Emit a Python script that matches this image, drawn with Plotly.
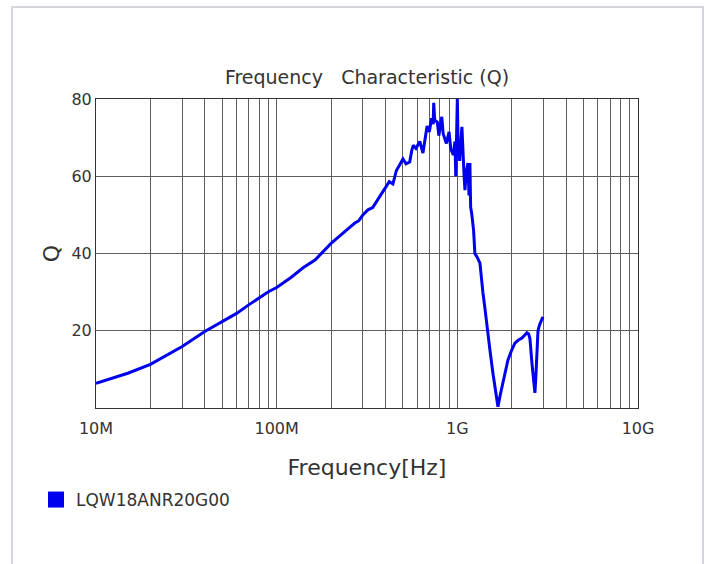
import plotly.graph_objects as go

# ---- data ----
freq_mhz = [10, 15, 20, 30, 40, 50, 60, 70, 80, 90, 100, 120, 140, 163, 200, 230, 250, 271, 285,
            300, 320, 340, 357, 373, 390, 420, 440, 460, 480, 500, 520, 545, 560, 570, 590, 620,
            645, 665, 680, 700, 720, 735, 740, 750, 775, 790, 820, 835, 850, 870, 900, 920, 950,
            970, 980, 990, 1000, 1010, 1030, 1060, 1074, 1090, 1102, 1120, 1145, 1160, 1174, 1185,
            1200, 1230, 1251, 1290, 1334, 1360, 1386, 1420, 1459, 1515, 1574, 1630, 1678, 1730,
            1788, 1850, 1905, 2000, 2083, 2180, 2277, 2350, 2427, 2480, 2522, 2588, 2640, 2688,
            2720, 2759, 2795, 2850, 2920, 2977]
q_values = [6.4, 9.0, 11.3, 15.9, 19.8, 22.3, 24.5, 26.7, 28.4, 30.1, 31.2, 33.8, 36.3, 38.3, 42.6,
            45.2, 46.5, 47.9, 48.5, 50.0, 51.3, 51.9, 53.4, 54.6, 56.2, 58.6, 58.0, 61.5, 63.0, 64.5,
            63.2, 63.7, 66.8, 68.0, 67.2, 69.0, 66.0, 70.5, 73.0, 71.5, 75.0, 73.5, 79.0, 74.5, 74.0,
            70.5, 75.4, 71.0, 70.0, 68.5, 71.5, 67.0, 65.5, 69.0, 60.0, 67.5, 80.0, 68.0, 64.0, 72.8,
            65.0, 60.0, 56.4, 61.0, 63.4, 55.0, 63.4, 52.0, 50.5, 46.0, 40.0, 39.0, 37.5, 33.0, 29.8,
            26.0, 22.0, 15.0, 9.0, 4.5, 0.3, 3.5, 6.5, 9.8, 12.4, 15.0, 16.8, 17.6, 18.1, 18.8, 19.5,
            19.2, 18.0, 11.6, 6.5, 3.9, 8.0, 15.0, 20.0, 21.5, 22.5, 23.6]
series_name = "LQW18ANR20G00"

decades_hz = [1e7, 1e8, 1e9, 1e10]
decade_labels = ["10M", "100M", "1G", "10G"]
y_ticks = [20, 40, 60, 80]

# grid positions 1..9 x each decade; labels only on decades
grid_vals = []
grid_text = []
for d, lab in zip(decades_hz[:-1], decade_labels[:-1]):
    for m in range(1, 10):
        grid_vals.append(d * m)
        grid_text.append(lab if m == 1 else "")
grid_vals.append(decades_hz[-1])
grid_text.append(decade_labels[-1])

freq_hz = [f * 1e6 for f in freq_mhz]

FONT = "DejaVu Sans"
TXT = "#333333"
BLUE = "#0000ee"

W, H = 709, 564
L, T, R, B = 96, 99, 71, 156
PW, PH = W - L - R, H - T - B


def px_x(x):
    return (x - L) / PW


def px_y(y):
    return (PH - (y - T)) / PH


fig = go.Figure()
fig.add_trace(go.Scatter(x=freq_hz, y=q_values, mode="lines",
                         line=dict(color=BLUE, width=3), showlegend=False,
                         name=series_name))
fig.add_trace(go.Scatter(x=[None], y=[None], mode="markers",
                         marker=dict(symbol="square", size=17, color=BLUE),
                         name=series_name, showlegend=True))

fig.update_layout(
    width=W, height=H,
    margin=dict(l=L, r=R, t=T, b=B),
    paper_bgcolor="white", plot_bgcolor="white",
    font=dict(family=FONT, color=TXT, size=16),
    title=dict(text="Frequency\u00a0\u00a0\u00a0Characteristic (Q)",
               x=0.5, xref="paper", xanchor="center",
               yref="container", y=1.0 - 77 / H, yanchor="middle",
               font=dict(family=FONT, size=19, color=TXT)),
    xaxis=dict(type="log", range=[7, 10], tickmode="array",
               tickvals=grid_vals, ticktext=grid_text,
               showgrid=True, gridcolor="#5e5e5e", gridwidth=1,
               showline=True, linecolor="#333333", linewidth=1, mirror=True,
               ticks="", tickfont=dict(size=16, color=TXT), ticklabelstandoff=6,
               title=dict(text="Frequency[Hz]", font=dict(size=22, color=TXT), standoff=22),
               zeroline=False),
    yaxis=dict(range=[0, 80], tickmode="array", tickvals=y_ticks,
               showgrid=True, gridcolor="#5e5e5e", gridwidth=1,
               showline=True, linecolor="#333333", linewidth=1, mirror=True,
               ticks="", tickfont=dict(size=16, color=TXT),
               title=dict(text="Q", font=dict(size=22, color=TXT), standoff=5),
               zeroline=False),
    legend=dict(x=px_x(36), y=px_y(500), xanchor="left", yanchor="middle",
                bgcolor="rgba(0,0,0,0)", font=dict(size=17, color=TXT),
                itemwidth=30, tracegroupgap=0),
    shapes=[dict(type="rect", xref="paper", yref="paper",
                 x0=px_x(12), x1=px_x(703),
                 y0=px_y(570), y1=px_y(7),
                 line=dict(color="#d3d6da", width=2), layer="below")],
)

fig.write_html("out.html",
               config={"displayModeBar": False},
               post_script="document.body.style.margin='0';"
                           "document.body.style.overflow='hidden';")
